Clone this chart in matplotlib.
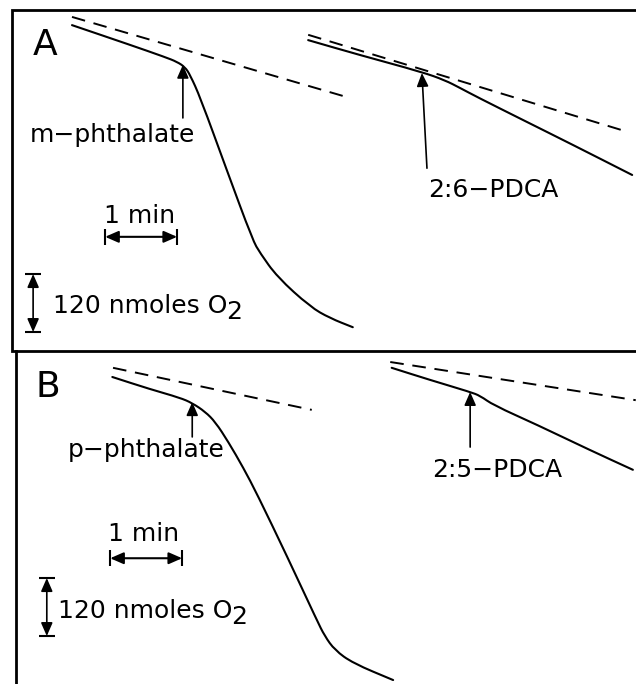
import matplotlib.pyplot as plt
from matplotlib.path import Path
from matplotlib.patches import PathPatch

# units: x in minutes, y in nmoles O2 consumed (grows downward)
PX_PER_MIN = 72.0
NMOL_PER_PX = 2.069

# panel A, m-phthalate trace
a1_t = [1.00, 1.81, 2.29, 2.46, 2.57, 2.64, 2.78, 3.15, 3.51, 3.61, 3.85, 4.31, 4.58, 4.90]
a1_o2 = [52, 93, 118, 128, 139, 155, 201, 352, 497, 523, 573, 635, 658, 677]
a1_dash_t = [1.00, 4.82]
a1_dash_o2 = [35, 201]

# panel A, 2:6-PDCA trace
a2_t = [4.28, 5.00, 5.86, 6.18, 6.39, 6.63, 7.26, 7.96, 8.78]
a2_o2 = [83, 114, 149, 166, 182, 201, 248, 300, 362]
a2_dash_t = [4.28, 8.72]
a2_dash_o2 = [72, 273]

# panel B, p-phthalate trace
b1_t = [1.56, 2.08, 2.50, 2.67, 2.85, 2.99, 3.17, 3.38, 3.57, 3.99, 4.40, 4.51, 4.65, 4.90, 5.46]
b1_o2 = [780, 805, 823, 834, 852, 873, 914, 968, 1022, 1152, 1283, 1316, 1345, 1372, 1407]
b1_dash_t = [1.57, 4.33]
b1_dash_o2 = [761, 848]

# panel B, 2:5-PDCA trace
b2_t = [5.44, 5.97, 6.53, 6.67, 6.85, 7.46, 8.19, 8.79]
b2_o2 = [761, 786, 811, 819, 838, 879, 931, 972]
b2_dash_t = [5.42, 8.83]
b2_dash_o2 = [749, 828]

# additions: label, arrow tip (t, o2), arrow tail (t, o2), label position (t, o2)
additions = [
    ('m\u2212phthalate', (2.54, 134), (2.54, 244), (0.42, 294)),
    ('2:6\u2212PDCA', (5.86, 151), (5.93, 348), (5.94, 408)),
    ('p\u2212phthalate', (2.67, 832), (2.67, 904), (0.94, 945)),
    ('2:5\u2212PDCA', (6.53, 811), (6.53, 925), (6.00, 987)),
]

panel_labels = ['A', 'B']
panel_label_pos = [(0.46, 114), (0.50, 821)]

# scale bars
time_bar = [(1.46, 490), (1.53, 1155)]
time_text = [(1.94, 461), (2.00, 1119)]
o2_bar = [(0.46, 567), (0.65, 1196)]
o2_text = [(0.74, 648), (0.81, 1279)]
BAR_MIN = 1.0
BAR_NMOL = 120

W, H = 636, 684
fig = plt.figure(figsize=(W / 100, H / 100), dpi=100)
ax = fig.add_axes([0, 0, 1, 1])
ax.set_xlim(0, W / PX_PER_MIN)
ax.set_ylim(H * NMOL_PER_PX, 0)
ax.axis('off')


def smooth_trace(t, o2, **kw):
    # quadratic bezier through midpoints so the recorder trace bends smoothly
    pts = list(zip(t, o2))
    verts = [pts[0]]
    codes = [Path.MOVETO]
    mid = lambda p, q: ((p[0] + q[0]) / 2, (p[1] + q[1]) / 2)
    verts.append(mid(pts[0], pts[1]))
    codes.append(Path.LINETO)
    for i in range(1, len(pts) - 1):
        verts += [pts[i], mid(pts[i], pts[i + 1])]
        codes += [Path.CURVE3, Path.CURVE3]
    verts.append(pts[-1])
    codes.append(Path.LINETO)
    ax.add_patch(PathPatch(Path(verts, codes), fill=False, **kw))


# panel frames
xr = W / PX_PER_MIN + 0.1
ax.plot([xr, 0.17, 0.17, xr], [21, 21, 726, 726], color='black', lw=2.0, solid_joinstyle='miter')
ax.plot([0.22, 0.22], [727, H * NMOL_PER_PX + 10], color='black', lw=2.0)

for t, o2 in [(a1_t, a1_o2), (a2_t, a2_o2), (b1_t, b1_o2), (b2_t, b2_o2)]:
    smooth_trace(t, o2, edgecolor='black', lw=1.5, capstyle='round', joinstyle='round')
for t, o2 in [(a1_dash_t, a1_dash_o2), (a2_dash_t, a2_dash_o2),
              (b1_dash_t, b1_dash_o2), (b2_dash_t, b2_dash_o2)]:
    ax.plot(t, o2, color='black', lw=1.4, dashes=(7, 4.5))

fs = 18
for label, tip, tail, pos in additions:
    ax.annotate('', xy=tip, xytext=tail,
                arrowprops=dict(arrowstyle='-|>,head_length=0.8,head_width=0.35',
                                color='black', lw=1.2, shrinkA=0, shrinkB=0))
    ax.text(pos[0], pos[1], label, fontsize=fs, ha='left', va='baseline')

for lab, (x, y) in zip(panel_labels, panel_label_pos):
    ax.text(x, y, lab, fontsize=26, ha='left', va='baseline')

for (t0, y), (tx, ty) in zip(time_bar, time_text):
    ax.annotate('', xy=(t0, y), xytext=(t0 + BAR_MIN, y),
                arrowprops=dict(arrowstyle='<|-|>,head_length=0.8,head_width=0.35',
                                color='black', lw=1.5, shrinkA=0, shrinkB=0))
    ax.plot([t0, t0 + BAR_MIN], [y, y], ls='none', marker='|', ms=11, mew=1.5, color='black')
    ax.text(tx, ty, '1 min', fontsize=fs, ha='center', va='baseline')

for (x, y0), (tx, ty) in zip(o2_bar, o2_text):
    ax.annotate('', xy=(x, y0), xytext=(x, y0 + BAR_NMOL),
                arrowprops=dict(arrowstyle='<|-|>,head_length=0.8,head_width=0.35',
                                color='black', lw=1.2, shrinkA=0, shrinkB=0))
    ax.plot([x, x], [y0, y0 + BAR_NMOL], ls='none', marker='_', ms=12, mew=1.5, color='black')
    txt = ax.text(tx, ty, '120 nmoles O', fontsize=fs, ha='left', va='baseline')
    ax.annotate('2', xy=(1.0, 0.0), xycoords=txt, xytext=(-1, -4),
                textcoords='offset points', fontsize=fs, ha='left', va='bottom')

fig.savefig('out.png', dpi=100, facecolor='white')
